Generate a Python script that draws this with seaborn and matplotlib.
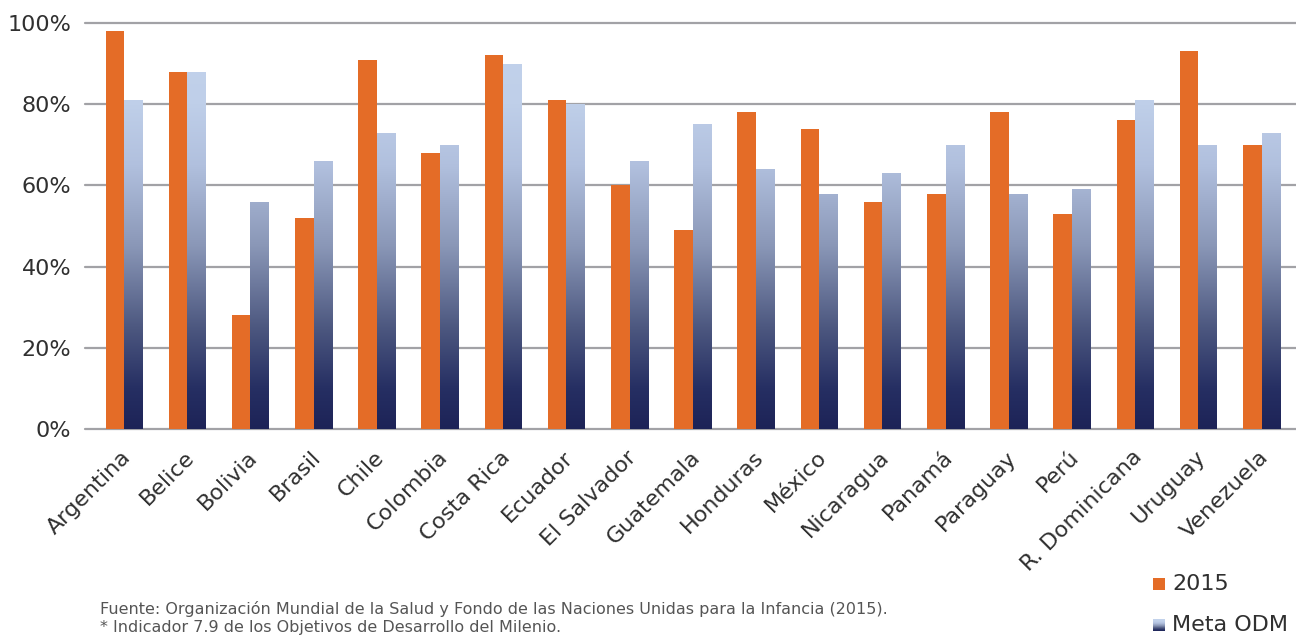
import numpy as np
import pandas as pd
import matplotlib
matplotlib.use("Agg")
import matplotlib.pyplot as plt
import matplotlib.transforms as mtransforms
import seaborn as sns
from matplotlib.colors import LinearSegmentedColormap
from matplotlib.patches import Rectangle

paises = ["Argentina", "Belice", "Bolivia", "Brasil", "Chile", "Colombia",
          "Costa Rica", "Ecuador", "El Salvador", "Guatemala", "Honduras",
          "México", "Nicaragua", "Panamá", "Paraguay", "Perú",
          "R. Dominicana", "Uruguay", "Venezuela"]
valores_2015 = [98, 88, 28, 52, 91, 68, 92, 81, 60, 49, 78, 74, 56, 58, 78, 53, 76, 93, 70]
meta_odm = [81, 88, 56, 66, 73, 70, 90, 80, 66, 75, 64, 58, 63, 70, 58, 59, 81, 70, 73]
series = ["2015", "Meta ODM"]
y_ticks = [0, 20, 40, 60, 80, 100]
fuente = ("Fuente: Organización Mundial de la Salud y Fondo de las Naciones Unidas para la Infancia (2015).\n"
          "* Indicador 7.9 de los Objetivos de Desarrollo del Milenio.")

naranja = "#e46c27"
texto = "#303030"
degradado = LinearSegmentedColormap.from_list(
    "meta", [(0.0, "#1d2357"), (0.1, "#262f63"), (0.25, "#4d5880"),
             (0.45, "#8a97b7"), (0.65, "#b1c0de"), (0.8, "#bfcfe9"), (1.0, "#c3d3ec")])

df = pd.DataFrame({
    "pais": paises * 2,
    "valor": valores_2015 + meta_odm,
    "serie": [series[0]] * len(paises) + [series[1]] * len(paises),
})

sns.set_theme(style="white")
plt.rcParams["font.family"] = ["DejaVu Sans"]

fig = plt.figure(figsize=(12.96, 6.35), dpi=100)
ax = fig.add_axes([85 / 1296, 1 - 429 / 635, 1 - 85 / 1296, (429 - 23) / 635])

sns.barplot(data=df, x="pais", y="valor", hue="serie", order=paises,
            hue_order=series, palette=[naranja, "#c3d3ec"], width=0.585,
            saturation=1, linewidth=0, legend=False, ax=ax, zorder=3)

ax.set_ylim(0, 100)
ax.set_xlim(-0.617, 18.545)

# gradient fill for the target bars, tied to the value axis
grad = np.linspace(0, 1, 256).reshape(-1, 1)
n = len(paises)
for patch in ax.patches[n:2 * n]:
    x0, w = patch.get_x(), patch.get_width()
    patch.set_facecolor("none")
    im = ax.imshow(grad, cmap=degradado, aspect="auto", origin="lower",
                   extent=(x0, x0 + w, 0, 100), zorder=3, interpolation="bilinear")
    im.set_clip_path(patch)

ax.set_yticks(y_ticks)
ax.set_yticklabels([f"{v}%" for v in y_ticks])
ax.yaxis.grid(True, color="#a2a2a6", linewidth=1.6, zorder=0)
for gl in ax.get_ygridlines():
    gl.set_clip_on(False)
ax.set_axisbelow(True)
for s in ax.spines.values():
    s.set_visible(False)
ax.tick_params(axis="y", length=0, pad=10, labelsize=16, labelcolor=texto)
ax.tick_params(axis="x", length=0, pad=13, labelsize=16, labelcolor=texto)
shift = mtransforms.ScaledTranslation(-3 / 100, 0, fig.dpi_scale_trans)
for lbl in ax.get_xticklabels():
    lbl.set_rotation(45)
    lbl.set_ha("right")
    lbl.set_rotation_mode("anchor")
    lbl.set_transform(lbl.get_transform() + shift)
ax.set_xlabel("")
ax.set_ylabel("")

# legend
fig.patches.append(Rectangle((1153 / 1296, 1 - 590 / 635), 12 / 1296, 12 / 635,
                             transform=fig.transFigure, facecolor=naranja, linewidth=0))
fig.text(1172 / 1296, 1 - 584 / 635, series[0], fontsize=16, color=texto, va="center")
lax = fig.add_axes([1153 / 1296, 1 - 631 / 635, 12 / 1296, 12 / 635])
lax.imshow(grad, cmap=degradado, aspect="auto", origin="lower", extent=(0, 1, 0, 1))
lax.axis("off")
fig.text(1172 / 1296, 1 - 625 / 635, series[1], fontsize=16, color=texto, va="center")

fig.text(100 / 1296, 1 - 618 / 635, fuente, fontsize=11.5, color="#555555",
         va="center", linespacing=1.2)

fig.savefig("out.png", dpi=100)
